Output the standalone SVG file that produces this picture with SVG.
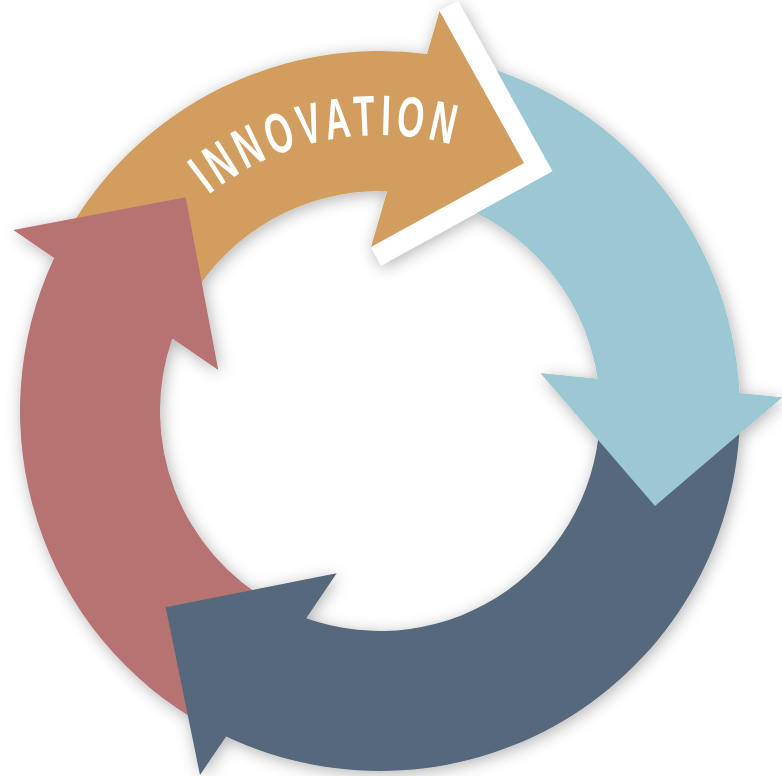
<svg xmlns="http://www.w3.org/2000/svg" width="782" height="776" viewBox="0 0 782 776">
  <defs>
    <filter id="shadow" x="-15%" y="-15%" width="130%" height="130%">
      <feDropShadow dx="2" dy="3" stdDeviation="8" flood-color="#000" flood-opacity="0.3"/>
    </filter>
    <path id="textArc" d="M 208.6 194.7 A 276 276 0 0 1 557.4 199.6"/>
  </defs>
  <style>
    .orange { fill: #D29E5F; }
    .blue { fill: #9CC8D3; }
    .navy { fill: #55677C; }
    .red { fill: #B77272; }
    .border { fill: #FFFFFF; }
    .label { fill: #FFFFFF; font-family: "Liberation Sans Narrow", "Liberation Sans", Arial, sans-serif; font-weight: bold; font-size: 57px; letter-spacing: 8px; }
  </style>
  <rect width="782" height="776" fill="#FFFFFF"/>
  <g id="cycle" filter="url(#shadow)">
    <g id="arrow-blue">
      <path class="blue" d="M 454.85 58.87 A 360 360 0 0 1 739.56 393.24 L 782 397.5 L 655 506 L 540.7 373.3 L 597.66 379.01 A 220 220 0 0 0 425.74 195.81 Z"/>
    </g>
    <g id="arrow-innovation">
      <polygon class="border" points="439.5,11 457.86,0.8 552.5,171.2 381.11,265.41 371,247"/>
      <path class="orange" d="M 68.23 231 A 360 360 0 0 1 427 54.08 L 439.5 11 L 524 163 L 371 247 L 387.22 191.12 A 220 220 0 0 0 189.47 301 Z"/>
      <text class="label" textLength="262" lengthAdjust="spacingAndGlyphs"><textPath href="#textArc">INNOVATION</textPath></text>
    </g>
    <g id="arrow-red">
      <path class="red" d="M 205.47 725.86 A 360 360 0 0 1 54.17 257.91 L 13.3 230 L 185.7 197.3 L 218.3 370 L 172.27 338.56 A 220 220 0 0 0 273.34 603.42 Z"/>
    </g>
    <g id="arrow-navy">
      <path class="navy" d="M 740 411 A 360 360 0 0 1 226.12 736.46 L 200 775 L 165.7 607.3 L 336.7 573.3 L 306.23 618.26 A 220 220 0 0 0 600 411 Z"/>
    </g>
    <g id="arrow-blue-head">
      <polygon class="blue" points="782,397.5 655,506 540.7,373.3"/>
    </g>
  </g>
</svg>
